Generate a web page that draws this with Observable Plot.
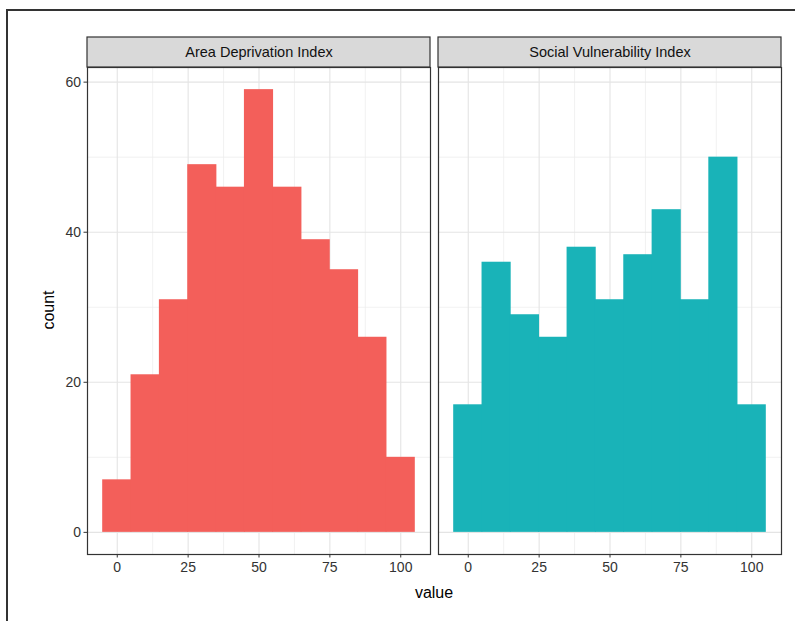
<!DOCTYPE html>
<html>
<head>
<meta charset="utf-8">
<script src="https://cdn.jsdelivr.net/npm/d3@7"></script>
<script src="https://cdn.jsdelivr.net/npm/@observablehq/plot@0.6"></script>
<style>
  body { margin: 0; background: #fff; }
  #wrap { position: relative; width: 795px; height: 621px; overflow: hidden;
          font-family: "Liberation Sans", Arial, sans-serif; background: #fff; }
  #border { position: absolute; left: 6px; top: 9px; width: 1000px; height: 1000px;
            border-left: 2px solid #333; border-top: 2px solid #333; }
  #chart { position: absolute; left: 0; top: 0; }
  .lab { position: absolute; font-size: 16px; color: #000; white-space: nowrap; }
  #xlab { left: 434px; top: 593px; transform: translate(-50%, -50%); }
  #ylab { left: 49px; top: 310px; transform: translate(-50%, -50%) rotate(-90deg); }
</style>
</head>
<body>
<div id="wrap">
  <div id="border"></div>
  <div id="chart"></div>
  <div class="lab" id="xlab">value</div>
  <div class="lab" id="ylab">count</div>
</div>
<script>
// ---- data ----
const facets = ["Area Deprivation Index", "Social Vulnerability Index"];
const binStarts = [-5, 5, 15, 25, 35, 45, 55, 65, 75, 85, 95];
const binWidth = 10;
const adiCounts = [7, 21, 31, 49, 46, 59, 46, 39, 35, 26, 10];
const sviCounts = [17, 36, 29, 26, 38, 31, 37, 43, 31, 50, 17];
const xTicks = [0, 25, 50, 75, 100];
const xMinor = [12.5, 37.5, 62.5, 87.5];
const yTicks = [0, 20, 40, 60];
const yMinor = [10, 30, 50];
const colors = ["#F35F5A", "#19B3B8"];

// ---- table ----
const bins = [];
[adiCounts, sviCounts].forEach((counts, k) => {
  counts.forEach((c, i) => bins.push({
    name: facets[k], x1: binStarts[i], x2: binStarts[i] + binWidth, count: c
  }));
});
const facetRows = facets.map(name => ({name}));

// ggplot-style 5% expansion
const xlo = binStarts[0], xhi = binStarts[binStarts.length - 1] + binWidth;
const xpad = (xhi - xlo) * 0.05;
const xDomain = [xlo - xpad, xhi + xpad];
const ymax = d3.max(bins, d => d.count);
const yDomain = [-ymax * 0.05, ymax * 1.05];

const gap = 8;
const plotW = 795 - 87 - 14;
const step = (plotW + gap) / 2;

const chart = Plot.plot({
  width: 795,
  height: 621,
  marginLeft: 87,
  marginRight: 14,
  marginTop: 67,
  marginBottom: 67,
  style: { fontFamily: "'Liberation Sans', Arial, sans-serif", background: "transparent", overflow: "visible" },
  fx: { domain: facets, paddingInner: gap / step, paddingOuter: 0, axis: null, label: null },
  x: { domain: xDomain, label: null },
  y: { domain: yDomain, label: null },
  color: { domain: facets, range: colors },
  marks: [
    Plot.gridX(xMinor, { stroke: "#EDEDED", strokeOpacity: 1, strokeWidth: 0.8 }),
    Plot.gridY(yMinor, { stroke: "#EDEDED", strokeOpacity: 1, strokeWidth: 0.8 }),
    Plot.gridX(xTicks, { stroke: "#E4E4E4", strokeOpacity: 1, strokeWidth: 1.1 }),
    Plot.gridY(yTicks, { stroke: "#E4E4E4", strokeOpacity: 1, strokeWidth: 1.1 }),
    Plot.rectY(bins, { fx: "name", x1: "x1", x2: "x2", y: "count", fill: "name",
                       insetLeft: -0.4, insetRight: -0.4 }),
    Plot.frame({ stroke: "#333", strokeWidth: 1.2 }),
    Plot.rect(facetRows, {
      fx: "name", x1: xDomain[0], x2: xDomain[1], y1: yDomain[1], y2: yDomain[1],
      insetTop: -30, fill: "#D9D9D9", stroke: "#333", strokeWidth: 1.2, clip: false
    }),
    Plot.text(facetRows, {
      fx: "name", text: "name", frameAnchor: "top", lineAnchor: "middle", dy: -15,
      fontSize: 14.5, fill: "#111"
    }),
    Plot.axisX({ ticks: xTicks, tickSize: 3.5, tickPadding: 4, fontSize: 14, color: "#333", label: null }),
    Plot.axisY({ ticks: yTicks, tickSize: 3.5, tickPadding: 3, fontSize: 14, color: "#333", label: null })
  ]
});
document.getElementById("chart").appendChild(chart);
</script>
</body>
</html>
